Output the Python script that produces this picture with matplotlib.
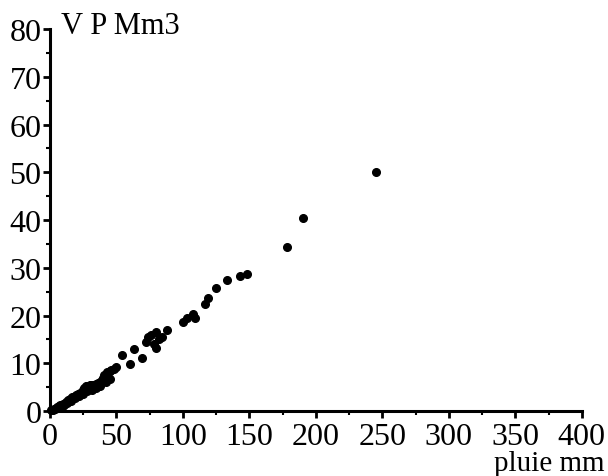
import matplotlib.pyplot as plt
from matplotlib.ticker import MultipleLocator

# rain (mm) vs runoff volume (Mm3)
pluie = [1, 2, 3, 4, 5, 6, 7, 8, 9, 10, 11, 12, 13, 14, 15, 16, 17, 18, 19, 20,
         21, 22, 23, 24, 25, 26, 27, 28, 29, 30, 31, 32, 33, 34, 35, 36, 37, 38,
         39, 40, 41, 42, 43, 44, 45, 46, 48, 50,
         25, 28, 32, 35, 38, 42, 45,
         54, 63, 60, 69,
         72, 74, 76, 78, 80, 82, 80, 84, 88,
         100, 103, 108, 109, 117, 119, 125, 133, 143, 148,
         178, 190, 245]
vp = [0.2, 0.3, 0.5, 0.4, 0.8, 0.7, 1.0, 1.2, 0.9, 1.5, 1.3, 2.0, 1.8, 2.3, 2.5, 2.2,
      2.9, 3.0, 2.7, 3.3, 3.5, 3.2, 3.8, 4.0, 4.5, 4.9, 5.2, 5.3, 5.0, 5.4, 5.5, 5.3,
      5.5, 5.4, 5.6, 5.8, 5.5, 6.2, 6.5, 7.0, 7.5, 7.8, 8.2, 8.0, 8.4, 8.6, 8.9, 9.3,
      3.6, 4.2, 4.4, 4.8, 5.2, 6.0, 6.8,
      11.8, 13.0, 9.9, 11.2,
      14.5, 15.5, 16.0, 14.0, 16.5, 15.0, 13.2, 15.5, 17.0,
      18.7, 19.4, 20.4, 19.4, 22.5, 23.6, 25.7, 27.4, 28.2, 28.8,
      34.3, 40.5, 50.0]

plt.rcParams["font.family"] = "Liberation Serif"

fig = plt.figure(figsize=(6.08, 4.77), dpi=100)
ax = fig.add_axes([0.082, 0.136, 0.875, 0.801])

ax.plot(pluie, vp, "o", color="black", markersize=5.5, clip_on=False)

ax.set_xlim(0, 400)
ax.set_ylim(0, 80)
ax.xaxis.set_major_locator(MultipleLocator(50))
ax.xaxis.set_minor_locator(MultipleLocator(25))
ax.yaxis.set_major_locator(MultipleLocator(10))
ax.yaxis.set_minor_locator(MultipleLocator(5))

for side in ["top", "right"]:
    ax.spines[side].set_visible(False)
for side in ["left", "bottom"]:
    ax.spines[side].set_linewidth(2.2)

ax.tick_params(axis="both", which="major", length=5, width=2, labelsize=23)
ax.tick_params(axis="both", which="minor", length=3, width=1.5)
ax.tick_params(axis="y", pad=1)
ax.tick_params(axis="x", pad=3)

fig.text(0.10, 0.945, "V P Mm3", fontsize=22, ha="left", va="center")
fig.text(0.995, 0.0, "pluie mm", fontsize=21, ha="right", va="bottom")

plt.savefig("out.png", dpi=100)
plt.close()
